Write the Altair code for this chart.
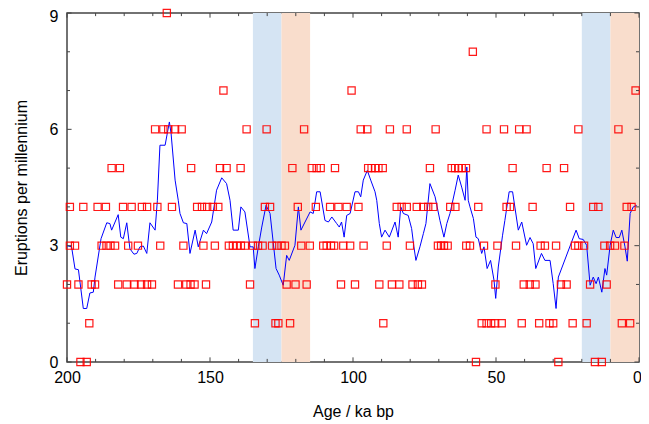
import altair as alt
import pandas as pd

# ---- eruption counts (open squares): ages in ka bp grouped by eruptions per millennium
ages_9 = [165.1]
ages_8 = [58.1]
ages_7 = [145.3, 100.5, 1.2]
ages_6 = [169.2, 166.3, 164.6, 162.2, 159.9, 137.2, 130.2, 117.1, 97.3, 95.0,
          87.1, 81.2, 71.1, 53.3, 47.2, 41.9, 39.3, 21.2, 7.2]
ages_5 = [184.4, 181.5, 156.6, 146.5, 144.2, 139.3, 121.2, 114.4, 112.7, 111.3,
          106.3, 94.7, 93.5, 92.3, 91.1, 89.6, 73.1, 65.5, 64.3, 63.2, 62.0, 60.5,
          44.2, 32.3, 26.2]
ages_4 = [199.0, 194.3, 189.3, 186.4, 180.4, 177.4, 173.8, 172.0, 168.4, 163.3,
          154.5, 152.8, 151.0, 149.0, 147.1, 130.8, 129.0, 119.3, 113.0, 108.0,
          105.1, 102.2, 98.1, 84.7, 83.0, 81.2, 77.7, 75.4, 73.7, 71.9, 66.0, 64.2,
          56.2, 46.3, 45.1, 37.2, 24.1, 16.0, 14.2, 4.3, 2.6]
ages_3 = [199.0, 197.2, 187.9, 186.2, 184.8, 183.2, 178.6, 175.2, 167.4, 159.3,
          152.3, 148.3, 143.4, 142.0, 140.6, 139.2, 137.8, 135.0, 133.2, 131.6,
          128.3, 126.7, 125.0, 123.8, 118.1, 115.1, 110.4, 109.2, 107.7, 106.6,
          103.4, 101.0, 96.3, 88.2, 80.1, 70.3, 69.2, 68.2, 66.9, 60.4, 59.1, 54.2,
          49.5, 43.0, 34.4, 32.9, 29.0, 22.4, 21.2, 19.2, 12.1, 10.1, 8.4, 5.1]
ages_2 = [200.0, 196.0, 191.4, 190.2, 182.1, 179.1, 176.4, 174.1, 172.0, 170.3,
          161.2, 158.3, 156.8, 155.4, 151.4, 136.0, 123.2, 120.1, 116.2, 104.2,
          99.3, 90.8, 86.4, 83.8, 79.2, 77.3, 75.9, 50.2, 40.3, 38.2, 36.2, 27.3,
          25.3, 17.1, 11.3]
ages_1 = [192.2, 134.3, 127.1, 126.1, 122.0, 89.4, 55.0, 53.3, 51.7, 50.3, 48.0,
          41.0, 34.9, 31.3, 30.0, 23.2, 18.3, 6.0, 3.1]
ages_0 = [195.3, 193.1, 57.0, 28.2, 15.4, 13.0]

# ---- running mean (blue line)
line_age = [200, 198.4, 197.2, 196, 194.3, 193.1, 192, 190.8, 190.2, 188.1, 186.1,
            185, 184.4, 182.1, 181.2, 180.3, 179.1, 178, 176.6, 175.6, 174.5, 173.3,
            172.1, 171, 169.2, 168.4, 167.5, 165.7, 164.2, 163.6, 162.2, 161.1, 160.5,
            159.3, 158.1, 157, 155.2, 154.1, 152.3, 151.2, 149.4, 147.7, 145.9, 144.2,
            143, 141.9, 140.1, 139.2, 137.8, 136, 134.9, 134.3, 133.1, 131.9, 130.4,
            129, 126.9, 125.8, 124.4, 123.2, 122.3, 120.3, 119.1, 118.2, 115, 113.9,
            112.7, 111.5, 109.8, 108.6, 107.4, 105.7, 104.8, 104, 103.1, 102.2, 101,
            99.3, 98.1, 97.3, 96.4, 95, 93.8, 92.3, 91.7, 90.8, 90, 88.8, 87.3, 85.3,
            84.2, 83.3, 82.4, 80.7, 79.5, 78.7, 78, 76.6, 75.4, 74.5, 73.1, 71.3, 69.6,
            68.2, 67.2, 66.1, 64.3, 63.2, 62, 60.8, 60.2, 59.7, 59.1, 57.9, 57, 56.2,
            55, 54.2, 53.1, 51.9, 50.7, 50.1, 49.2, 47.7, 46.9, 45.4, 44.2, 42.2, 41,
            39.3, 38.1, 37, 36.1, 34.1, 32.9, 31.1, 30, 29, 28.2, 22, 20.9, 19.5, 18.3,
            17.1, 16, 15, 14.2, 13, 11.9, 11.3, 10.1, 9, 8, 6.9, 6, 4.9, 4.1, 3.1, 2,
            0.8]
line_rate = [3.0, 2.97, 2.4, 2.38, 1.38, 1.38, 1.78, 1.8, 2.19, 3.18, 3.59, 3.57,
             3.4, 3.8, 3.22, 3.18, 3.59, 2.92, 2.78, 2.8, 2.97, 2.99, 2.8, 3.59, 3.4,
             4.17, 5.59, 5.59, 6.19, 5.89, 4.69, 4.17, 3.83, 3.59, 3.57, 2.8, 3.4,
             2.97, 3.4, 3.31, 3.61, 4.43, 4.75, 4.6, 4.17, 3.4, 3.4, 4.0, 3.87, 2.97,
             2.97, 2.41, 2.97, 3.48, 4.04, 3.83, 2.41, 2.24, 1.98, 2.75, 2.62, 3.01,
             4.0, 3.4, 3.87, 3.83, 4.39, 4.39, 3.65, 3.61, 3.74, 3.57, 3.48, 3.61,
             3.22, 3.78, 3.83, 4.39, 4.39, 4.26, 4.69, 4.94, 4.69, 4.39, 4.17, 3.57,
             3.22, 3.4, 3.22, 3.61, 3.22, 4.0, 3.83, 3.78, 3.44, 2.97, 2.62, 2.97,
             3.31, 3.57, 4.6, 4.26, 3.65, 3.22, 3.57, 3.83, 4.43, 4.82, 4.51, 4.17,
             5.03, 4.17, 4.0, 3.7, 3.22, 3.18, 2.8, 2.97, 2.41, 2.62, 2.11, 1.64,
             2.45, 3.27, 3.65, 4.39, 4.39, 3.4, 3.61, 3.01, 3.21, 3.05, 2.41, 2.8,
             2.62, 2.62, 2.02, 1.38, 2.19, 3.4, 3.18, 3.16, 3.01, 1.98, 2.19, 2.02,
             2.19, 1.8, 2.41, 2.24, 3.01, 3.4, 3.21, 3.21, 3.4, 2.97, 2.6, 3.83, 4.0,
             4.04]

# ---- shaded intervals
band_start = [135, 125, 20, 10]
band_end = [125, 115, 10, 0]
band_kind = ["cold", "warm", "cold", "warm"]

# ---- axis ticks
x_major = [0, 50, 100, 150, 200]
x_minor = [10, 20, 30, 40, 60, 70, 80, 90, 110, 120, 130, 140, 160, 170, 180, 190]
y_major = [0, 3, 6, 9]
y_minor = [1, 2, 4, 5, 7, 8]

rows = []
for count, ages in [(9, ages_9), (8, ages_8), (7, ages_7), (6, ages_6), (5, ages_5),
                    (4, ages_4), (3, ages_3), (2, ages_2), (1, ages_1), (0, ages_0)]:
    for a in ages:
        rows.append({"age": a, "count": count})
pts = pd.DataFrame(rows)
line_df = pd.DataFrame({"age": line_age, "rate": line_rate})
bands = pd.DataFrame({"start": band_start, "end": band_end, "kind": band_kind})

FONT = "Liberation Sans"
xscale = alt.Scale(domain=[0, 200], reverse=True, nice=False, zero=False)
yscale = alt.Scale(domain=[0, 9], nice=False)

x_axis = alt.Axis(values=x_major, title="Age / ka bp", grid=False, ticks=False,
                  tickSize=0, domain=False, labelFont=FONT, labelFontSize=16,
                  labelColor="black", labelPadding=7, titleFont=FONT,
                  titleFontSize=16, titleFontWeight="normal", titleColor="black",
                  titlePadding=18, labelFlush=False,
                  labelOffset={"condition": {"test": "datum.value == 0", "value": -2},
                               "value": 0})
y_axis = alt.Axis(values=y_major, title="Eruptions per millennium", grid=False,
                  ticks=False, tickSize=0, domain=False, labelFont=FONT,
                  labelFontSize=16, labelColor="black", labelPadding=9,
                  titleFont=FONT, titleFontSize=16, titleFontWeight="normal",
                  titleColor="black", titlePadding=20, labelFlush=False,
                  labelOffset={"condition": {"test": "datum.value == 9", "value": 3.5},
                               "value": 0})

band_layer = alt.Chart(bands).mark_rect(opacity=1).encode(
    x=alt.X("start:Q", scale=xscale, axis=x_axis),
    x2="end:Q",
    color=alt.Color("kind:N", scale=alt.Scale(domain=["cold", "warm"],
                                               range=["#d5e4f3", "#f9ddcc"]),
                    legend=None),
)

point_layer = alt.Chart(pts).mark_point(shape="square", filled=False, size=52,
                                        strokeWidth=1.2, color="#ff0000",
                                        opacity=0.9).encode(
    x=alt.X("age:Q", scale=xscale),
    y=alt.Y("count:Q", scale=yscale, axis=y_axis),
)

line_layer = alt.Chart(line_df).mark_line(color="#0000ff", strokeWidth=1).encode(
    x=alt.X("age:Q", scale=xscale),
    y=alt.Y("rate:Q", scale=yscale),
    order="idx:O",
).transform_window(idx="row_number()")

TICK = "#444444"
xmaj = pd.DataFrame({"v": x_major})
xmin = pd.DataFrame({"v": x_minor})
ymaj = pd.DataFrame({"v": y_major})
ymin = pd.DataFrame({"v": y_minor})


def xticks(df, y0, y1):
    return alt.Chart(df).mark_rule(color=TICK, strokeWidth=1).encode(
        x=alt.X("v:Q", scale=xscale), y=alt.datum(y0, scale=yscale),
        y2=alt.datum(y1))


def yticks(df, x0, x1):
    return alt.Chart(df).mark_rule(color=TICK, strokeWidth=1).encode(
        y=alt.Y("v:Q", scale=yscale), x=alt.datum(x0, scale=xscale),
        x2=alt.datum(x1))


tick_layers = [
    xticks(xmaj, 0, 0.12), xticks(xmaj, 9, 8.88),
    xticks(xmin, 0, 0.08), xticks(xmin, 9, 8.92),
    yticks(ymaj, 200, 198.4), yticks(ymaj, 0, 1.6),
    yticks(ymin, 200, 198.95), yticks(ymin, 0, 1.05),
]

chart = alt.layer(band_layer, line_layer, point_layer, *tick_layers).properties(
    width=572, height=349,
    padding={"left": 59, "top": 5, "right": 2, "bottom": 58},
    autosize=alt.AutoSizeParams(type="none"),
    background="white",
).configure_view(stroke="#444444", strokeWidth=1.5)

chart.save("out.html", embed_options={"renderer": "svg", "actions": False})
